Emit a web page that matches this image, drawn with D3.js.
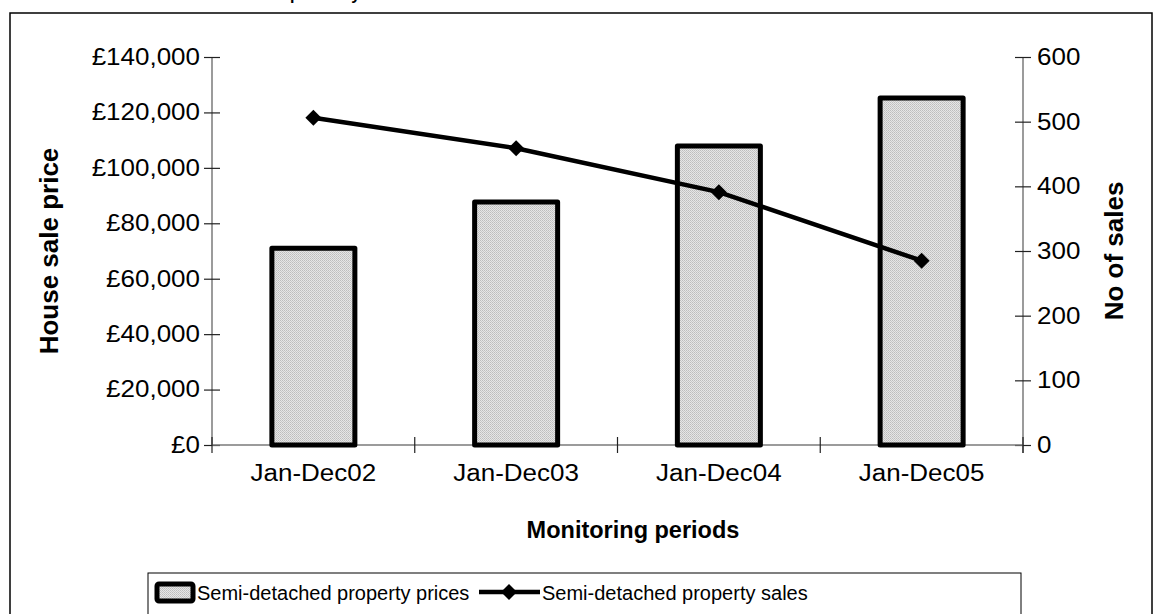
<!DOCTYPE html>
<html>
<head>
<meta charset="utf-8">
<script src="https://cdn.jsdelivr.net/npm/d3@7"></script>
<style>
  html, body { margin: 0; padding: 0; background: #fff; }
  svg { display: block; font-family: Arial, "Liberation Sans", sans-serif; }
</style>
</head>
<body>
<svg id="chart" width="1154" height="614"></svg>
<script>
// Monitoring periods and the two series plotted against them
const periods = ["Jan-Dec02", "Jan-Dec03", "Jan-Dec04", "Jan-Dec05"];
const prices = [71000, 87700, 107900, 125200];   // average semi-detached sale price (£)
const sales = [506, 459, 391, 285];              // number of semi-detached sales
const priceTicks = [0, 20000, 40000, 60000, 80000, 100000, 120000, 140000];
const salesTicks = [0, 100, 200, 300, 400, 500, 600];

const svg = d3.select("#chart");
const TX = 1.13; // horizontal stretch for tick labels

const plot = { left: 212, right: 1023, top: 57, bottom: 445 };

const x = d3.scaleBand().domain(periods).range([plot.left, plot.right]);
const yL = d3.scaleLinear().domain([0, 140000]).range([plot.bottom, plot.top]);
const yR = d3.scaleLinear().domain([0, 600]).range([plot.bottom, plot.top]);

// stippled grey fill for bars
const defs = svg.append("defs");
const pat = defs.append("pattern").attr("id", "stipple").attr("width", 2).attr("height", 2)
  .attr("patternUnits", "userSpaceOnUse");
pat.append("rect").attr("width", 2).attr("height", 2).attr("fill", "#e6e6e6");
pat.append("rect").attr("width", 1).attr("height", 1).attr("fill", "#bdbdbd");
pat.append("rect").attr("x", 1).attr("y", 1).attr("width", 1).attr("height", 1).attr("fill", "#c8c8c8");

// chart area frame
svg.append("rect").attr("x", 10).attr("y", 13).attr("width", 1142).attr("height", 640)
  .attr("fill", "none").attr("stroke", "#000").attr("stroke-width", 1.5);

// title (sits above the frame)
const title = svg.append("text").attr("y", -0.5).attr("font-size", 16).attr("font-weight", "bold");
const pre = title.append("tspan").text("Semi-detached house ");
title.append("tspan").text("prices by area");
title.attr("x", 290 - pre.node().getComputedTextLength());

function stretch(sel) {
  sel.each(function () {
    const t = d3.select(this);
    const xv = +t.attr("x") || 0;
    t.attr("x", xv / TX).attr("transform", `scale(${TX},1)`);
  });
}

// left axis
const gL = svg.append("g").attr("transform", `translate(${plot.left},0)`)
  .call(d3.axisLeft(yL).tickValues(priceTicks).tickSize(8).tickPadding(4)
    .tickFormat(d => "£" + d3.format(",")(d)));
gL.selectAll(".tick line").attr("x2", 8).attr("x1", -8);
// right axis
const gR = svg.append("g").attr("transform", `translate(${plot.right},0)`)
  .call(d3.axisRight(yR).tickValues(salesTicks).tickSize(8).tickPadding(6));
gR.selectAll(".tick line").attr("x1", -8).attr("x2", 8);
// bottom axis with boundary ticks between categories
const gB = svg.append("g").attr("transform", `translate(0,${plot.bottom})`)
  .call(d3.axisBottom(x).tickSize(0).tickPadding(20));
gB.selectAll(".tick").each(function () {
  d3.select(this).append("line").attr("x1", -x.bandwidth() / 2).attr("x2", -x.bandwidth() / 2)
    .attr("y1", -8).attr("y2", 8);
});
gB.append("line").attr("x1", plot.right).attr("x2", plot.right).attr("y1", -8).attr("y2", 8);

[gL, gR, gB].forEach(g => {
  g.attr("font-family", null);
  g.select(".domain").attr("stroke", "#7a7a7a").attr("stroke-width", 1.5);
  g.selectAll("line").attr("stroke", "#222").attr("stroke-width", 1.2);
  g.selectAll("text").attr("font-size", 23).attr("fill", "#000");
  stretch(g.selectAll("text"));
});
gL.select(".domain").attr("d", `M0,${plot.bottom}V${plot.top}`);
gR.select(".domain").attr("d", `M0,${plot.bottom + 8}V${plot.top}`);
gB.select(".domain").attr("d", `M${plot.left},0H${plot.right}`);

// bars
const bw = 83;
svg.append("g").selectAll("rect").data(prices).join("rect")
  .attr("x", (d, i) => x(periods[i]) + x.bandwidth() / 2 - bw / 2)
  .attr("y", d => yL(d))
  .attr("width", bw)
  .attr("height", d => plot.bottom - yL(d))
  .attr("fill", "url(#stipple)").attr("stroke", "#000").attr("stroke-width", 5)
  .attr("stroke-linejoin", "round");

// sales line
const cx = (d, i) => x(periods[i]) + x.bandwidth() / 2;
svg.append("path").datum(sales)
  .attr("d", d3.line().x(cx).y(d => yR(d)))
  .attr("fill", "none").attr("stroke", "#000").attr("stroke-width", 4.5);
svg.append("g").selectAll("path").data(sales).join("path")
  .attr("transform", (d, i) => `translate(${cx(d, i)},${yR(d)})`)
  .attr("d", "M0,-8L8,0L0,8L-8,0Z").attr("fill", "#000");

// axis titles
function label(txt, px, py, rot, size) {
  svg.append("text").attr("transform", `translate(${px},${py}) rotate(${rot})`)
    .attr("text-anchor", "middle").attr("font-size", size).attr("font-weight", "bold").text(txt);
}
label("House sale price", 58, 251, -90, 26);
label("No of sales", 1123, 251, -90, 26);
label("Monitoring periods", 633, 538, 0, 23.5);

// legend
const lg = svg.append("g");
lg.append("rect").attr("x", 148).attr("y", 573).attr("width", 873).attr("height", 60)
  .attr("fill", "#fff").attr("stroke", "#000").attr("stroke-width", 1);
lg.append("rect").attr("x", 157).attr("y", 584).attr("width", 36).attr("height", 17)
  .attr("fill", "url(#stipple)").attr("stroke", "#000").attr("stroke-width", 5).attr("rx", 2);
lg.append("text").attr("x", 197).attr("y", 600).attr("font-size", 20)
  .text("Semi-detached property prices");
lg.append("line").attr("x1", 479).attr("x2", 540).attr("y1", 592).attr("y2", 592)
  .attr("stroke", "#000").attr("stroke-width", 4.5);
lg.append("path").attr("transform", "translate(509,592)").attr("d", "M0,-8L8,0L0,8L-8,0Z").attr("fill", "#000");
lg.append("text").attr("x", 542).attr("y", 600).attr("font-size", 20)
  .text("Semi-detached property sales");
</script>
</body>
</html>
